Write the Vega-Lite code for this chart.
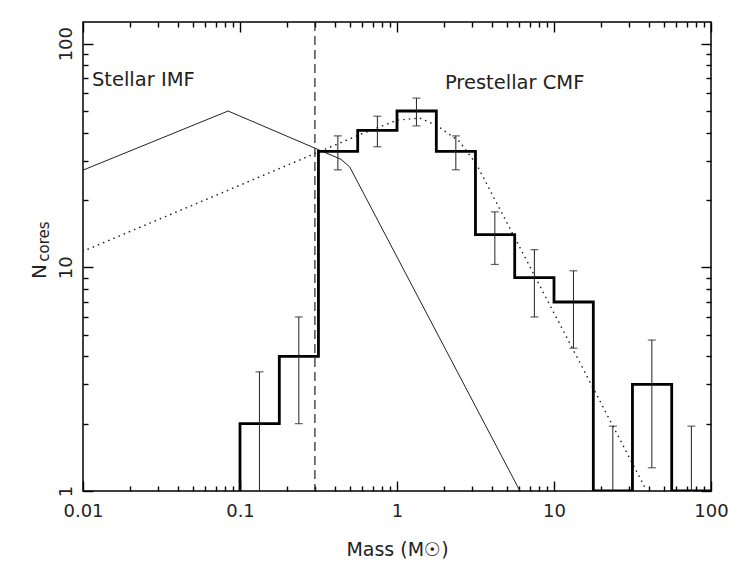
{
  "$schema": "https://vega.github.io/schema/vega-lite/v6.json",
  "width": 628,
  "height": 469,
  "autosize": "none",
  "padding": {"left": 83, "top": 22, "right": 18, "bottom": 82},
  "background": "white",
  "config": {
    "view": {"stroke": "black", "strokeWidth": 1.5, "fill": null},
    "axis": {
      "domain": false, "ticks": true, "tickColor": "black", "tickWidth": 1.4, "tickOpacity": 1, "zindex": 1,
      "grid": false, "labelFont": "DejaVu Sans", "titleFont": "DejaVu Sans",
      "labelFontSize": 18, "labelColor": "#222", "titleColor": "#222", "titleFontWeight": "normal",
      "labelOverlap": false, "labelFlush": false, "labelBound": false
    }
  },
  "datasets": {
    "hist": [
      {"m": 0.1, "n": 1}, {"m": 0.1, "n": 2}, {"m": 0.178, "n": 4}, {"m": 0.316, "n": 33},
      {"m": 0.562, "n": 41}, {"m": 1, "n": 50}, {"m": 1.78, "n": 33}, {"m": 3.16, "n": 14},
      {"m": 5.62, "n": 9}, {"m": 10, "n": 7}, {"m": 17.8, "n": 1}, {"m": 31.6, "n": 3},
      {"m": 56.2, "n": 1}, {"m": 100, "n": 1}
    ],
    "imf": [
      {"m": 0.01, "n": 27.2}, {"m": 0.084, "n": 50}, {"m": 0.44, "n": 30.4},
      {"m": 0.5, "n": 28.1}, {"m": 6.07, "n": 1}
    ],
    "cmf": [
      {"m": 0.01, "n": 11.8}, {"m": 0.1, "n": 23.3}, {"m": 0.31, "n": 32.6}, {"m": 0.6, "n": 39.6},
      {"m": 1.0, "n": 45.5}, {"m": 1.4, "n": 46.5}, {"m": 1.8, "n": 43}, {"m": 2.5, "n": 36.5},
      {"m": 3.2, "n": 29}, {"m": 39, "n": 1}
    ],
    "err": [
      {"m": 0.133, "lo": 0.59, "hi": 3.41}, {"m": 0.237, "lo": 2, "hi": 6},
      {"m": 0.42, "lo": 27.3, "hi": 38.7}, {"m": 0.75, "lo": 34.6, "hi": 47.4},
      {"m": 1.33, "lo": 42.9, "hi": 57.1}, {"m": 2.37, "lo": 27.3, "hi": 38.7},
      {"m": 4.2, "lo": 10.3, "hi": 17.7}, {"m": 7.5, "lo": 6, "hi": 12},
      {"m": 13.3, "lo": 4.35, "hi": 9.65}, {"m": 23.7, "lo": 1, "hi": 1.95},
      {"m": 42, "lo": 1.27, "hi": 4.73}, {"m": 75, "lo": 1, "hi": 1.95}
    ],
    "cut": [{"m": 0.3}],
    "labels": [
      {"m": 0.0114, "n": 69, "t": "Stellar IMF"},
      {"m": 2.02, "n": 67, "t": "Prestellar CMF"}
    ]
  },
  "resolve": {"axis": {"x": "independent", "y": "independent"}},
  "layer": [
    {
      "data": {"name": "imf"},
      "mark": {"type": "line", "color": "#222", "strokeWidth": 1, "clip": true},
      "encoding": {
        "x": {"field": "m", "type": "quantitative", "scale": {"type": "log", "domain": [0.01, 100], "nice": false},
          "axis": {"orient": "bottom", "values": [0.01, 0.1, 1, 10, 100], "tickSize": -10, "labelPadding": 21,
            "labelExpr": "datum.value == 0.01 ? '0.01' : datum.value == 0.1 ? '0.1' : datum.value == 1 ? '1' : datum.value == 10 ? '10' : '100'",
            "title": "Mass (M☉)", "titleFontSize": 19, "titleBaseline": "alphabetic", "titleY": 64}},
        "y": {"field": "n", "type": "quantitative", "scale": {"type": "log", "domain": [1, 125], "nice": false},
          "axis": {"orient": "left", "values": [1, 10, 100], "tickSize": -10, "labelPadding": 18, "labelAngle": 270,
            "labelExpr": "datum.value == 1 ? '1' : datum.value == 10 ? '10' : '100'",
            "title": "N", "titleFontSize": 20, "titleAngle": 270, "titleBaseline": "alphabetic", "titleX": -38, "titleY": 249}},
        "order": {"value": null}
      }
    },
    {
      "data": {"name": "cmf"},
      "mark": {"type": "line", "color": "#222", "strokeWidth": 1.6, "strokeDash": [0.1, 5.5], "strokeCap": "round", "clip": true},
      "encoding": {
        "x": {"field": "m", "type": "quantitative", "scale": {"type": "log", "domain": [0.01, 100], "nice": false},
          "axis": {"orient": "bottom", "values": [0.02,0.03,0.04,0.05,0.06,0.07,0.08,0.09,0.2,0.3,0.4,0.5,0.6,0.7,0.8,0.9,2,3,4,5,6,7,8,9,20,30,40,50,60,70,80,90],
            "tickSize": -5, "labels": false, "title": null}},
        "y": {"field": "n", "type": "quantitative", "scale": {"type": "log", "domain": [1, 125], "nice": false},
          "axis": {"orient": "left", "values": [2,3,4,5,6,7,8,9,20,30,40,50,60,70,80,90], "tickSize": -5, "labels": false, "title": null}},
        "order": {"value": null}
      }
    },
    {
      "data": {"name": "hist"},
      "mark": {"type": "line", "color": "black", "strokeWidth": 2.8, "interpolate": "step-after", "clip": true},
      "encoding": {
        "x": {"field": "m", "type": "quantitative", "scale": {"type": "log", "domain": [0.01, 100], "nice": false},
          "axis": {"orient": "top", "values": [0.01, 0.1, 1, 10, 100], "tickSize": -10, "labels": false, "title": null}},
        "y": {"field": "n", "type": "quantitative", "scale": {"type": "log", "domain": [1, 125], "nice": false},
          "axis": {"orient": "right", "values": [1, 10, 100], "tickSize": -10, "labels": false, "title": null}},
        "order": {"value": null}
      }
    },
    {
      "data": {"name": "err"},
      "mark": {"type": "rule", "color": "#222", "strokeWidth": 1, "clip": true},
      "encoding": {
        "x": {"field": "m", "type": "quantitative", "scale": {"type": "log", "domain": [0.01, 100], "nice": false},
          "axis": {"orient": "top", "values": [0.02,0.03,0.04,0.05,0.06,0.07,0.08,0.09,0.2,0.3,0.4,0.5,0.6,0.7,0.8,0.9,2,3,4,5,6,7,8,9,20,30,40,50,60,70,80,90],
            "tickSize": -5, "labels": false, "title": null}},
        "y": {"field": "lo", "type": "quantitative", "scale": {"type": "log", "domain": [1, 125], "nice": false},
          "axis": {"orient": "right", "values": [2,3,4,5,6,7,8,9,20,30,40,50,60,70,80,90], "tickSize": -5, "labels": false, "title": null}},
        "y2": {"field": "hi"}
      }
    },
    {
      "data": {"name": "err"},
      "transform": [{"fold": ["lo", "hi"], "as": ["k", "v"]}, {"filter": "datum.v > 1"}],
      "mark": {"type": "tick", "orient": "horizontal", "color": "#222", "size": 8, "thickness": 1.2, "clip": true},
      "encoding": {
        "x": {"field": "m", "type": "quantitative", "scale": {"type": "log", "domain": [0.01, 100], "nice": false}, "axis": null},
        "y": {"field": "v", "type": "quantitative", "scale": {"type": "log", "domain": [1, 125], "nice": false},
          "axis": {"orient": "left", "labels": false, "ticks": false, "domain": false, "title": "cores", "titleFontSize": 15,
            "titleAngle": 270, "titleBaseline": "alphabetic", "titleX": -35, "titleY": 219}}
      }
    },
    {
      "data": {"name": "cut"},
      "mark": {"type": "rule", "strokeDash": [9, 5], "strokeWidth": 1.2, "color": "#222"},
      "encoding": {
        "x": {"field": "m", "type": "quantitative", "scale": {"type": "log", "domain": [0.01, 100], "nice": false}, "axis": null}
      }
    },
    {
      "data": {"name": "labels"},
      "mark": {"type": "text", "align": "left", "baseline": "middle", "font": "DejaVu Sans", "fontSize": 19.5, "color": "#222"},
      "encoding": {
        "x": {"field": "m", "type": "quantitative", "scale": {"type": "log", "domain": [0.01, 100], "nice": false}, "axis": null},
        "y": {"field": "n", "type": "quantitative", "scale": {"type": "log", "domain": [1, 125], "nice": false}, "axis": null},
        "text": {"field": "t"}
      }
    }
  ]
}
